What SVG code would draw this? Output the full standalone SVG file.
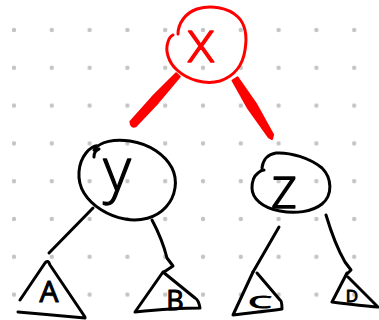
<svg xmlns="http://www.w3.org/2000/svg" width="379" height="320" viewBox="0 0 379 320">
<defs>
<pattern id="dots" patternUnits="userSpaceOnUse" x="-4.9" y="11.1" width="37.8" height="37.8">
<circle cx="18.9" cy="18.9" r="2.2" fill="#c4c4c4"/>
</pattern>
</defs>
<style>
.ink{fill:none;stroke:#000;stroke-width:3;stroke-linecap:round;stroke-linejoin:round}
.red{fill:none;stroke:#f00;stroke-width:3;stroke-linecap:round;stroke-linejoin:round}
.redfill{fill:#f00;stroke:#f00;stroke-width:2;stroke-linejoin:round}
.big{font-family:"Open Sans","Liberation Sans",sans-serif;font-weight:300;text-anchor:middle;stroke-width:1.3;stroke-linejoin:round}
.small{font-family:"Open Sans","Liberation Sans",sans-serif;font-weight:400;text-anchor:middle;fill:#000;stroke:#000;stroke-width:1;stroke-linejoin:round}
</style>
<rect width="379" height="320" fill="#fff"/>
<rect width="379" height="320" fill="url(#dots)"/>
<g id="connectors">
<path class="redfill" d="M176.2,73.3 L179.8,76.7 L157.9,102.7 L135.6,126.4 Q131,128 130.4,121.6 L152.1,97.3 Z"/>
<path class="redfill" d="M232.5,80.6 L237.5,77.4 L255.8,103.6 L273.1,134.7 L272,139 L268.9,137.3 L248.2,108.4 Z"/>
<path class="ink" d="M93,208 L49,253"/>
<path class="ink" d="M152,220 C160,235 165,250 167,258 L173,266 L164,272"/>
<path class="ink" d="M279,227 L253,272"/>
<path class="ink" d="M326,215 C332,235 338,250 345,262 L351,270 L347,274"/>
</g>
<g id="node-x">
<path class="red" d="M178,34 C178,24 185,13 197,9 C210,5 228,7 238,17 C246,25 247,38 245,50 C243,64 235,76 220,81 C205,85 188,80 177,70 C168,62 165,50 168,42 C169,38 171,36 173,35"/>
<text class="big" x="201" y="62" font-size="58" fill="#f00" stroke="#f00">x</text>
</g>
<g id="node-y">
<path class="ink" d="M94,150 C100,141 115,139 130,141 C150,144 165,155 172,168 C178,180 176,196 166,207 C156,218 140,222 125,219 C108,216 92,206 84,193 C76,180 78,163 86,153 C90,148 95,145 98,146"/>
<path class="ink" d="M94,157 C94,153 96,150 99,149"/>
<text class="big" x="117" y="191" font-size="60" fill="#000" stroke="#000">y</text>
</g>
<g id="node-z">
<path class="ink" d="M262,168 C263,160 268,154 276,153 C290,152 310,158 322,168 C332,178 333,195 322,204 C312,212 295,214 280,211 C262,208 252,198 252,188 C252,181 254,176 258,173 C260,171 262,170 264,170"/>
<text class="big" x="284" y="208" font-size="58" fill="#000" stroke="#000">z</text>
</g>
<g id="node-A">
<path class="ink" d="M45,263 L20,300 M18,312 C40,314 65,316 85,318 M45,263 Q48,259 50,265 L85,317"/>
<text class="small" x="49" y="302" font-size="30">A</text>
</g>
<g id="node-B">
<path class="ink" d="M163,272 L135,312 C155,310 180,308 200,308 C199,302 197,299 195,298 L163,272"/>
<text class="small" x="175" y="310" font-size="27">B</text>
</g>
<g id="node-C">
<path class="ink" d="M253,272 L233,315 C250,313 268,311 282,309 C282,302 281,300 280,300 L257,273"/>
<text class="small" x="260" y="308" font-size="16" textLength="23" lengthAdjust="spacingAndGlyphs">C</text>
</g>
<g id="node-D">
<path class="ink" d="M347,273 L332,302 C348,304 365,306 378,307 L348,277"/>
<text class="small" x="352" y="302" font-size="17">D</text>
</g>
</svg>
